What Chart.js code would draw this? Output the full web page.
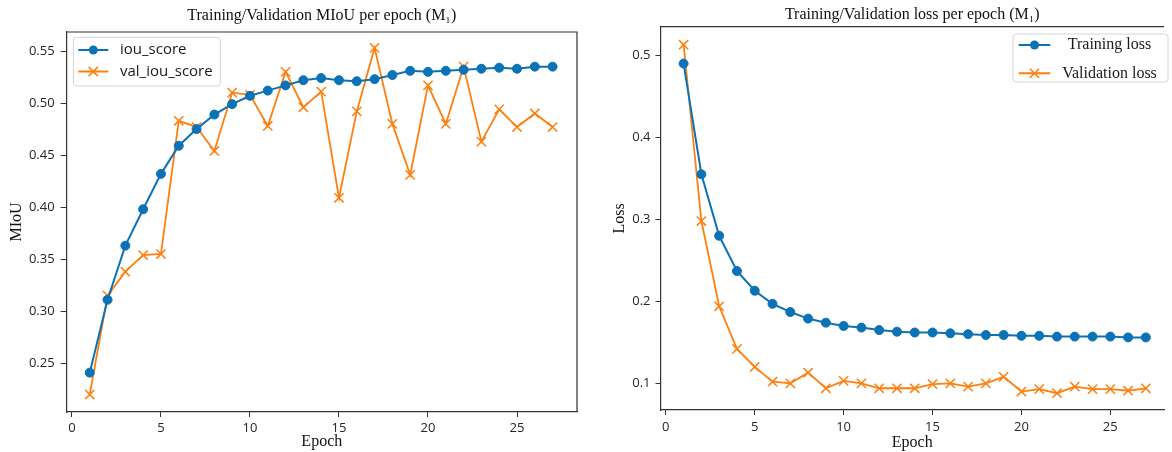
<!DOCTYPE html>
<html>
<head>
<meta charset="utf-8">
<script src="https://cdn.jsdelivr.net/npm/chart.js"></script>
<style>
body{margin:0;background:#fff;}
#wrap{position:relative;width:1172px;height:452px;overflow:hidden;}
canvas{position:absolute;top:0;}
#c1{left:0;}
#c2{left:590px;}
</style>
</head>
<body>
<div id="wrap">
<canvas id="c1" width="590" height="452"></canvas>
<canvas id="c2" width="582" height="452"></canvas>
</div>
<script>
var epochs = [1,2,3,4,5,6,7,8,9,10,11,12,13,14,15,16,17,18,19,20,21,22,23,24,25,26,27];
var iouScore = [0.241,0.311,0.363,0.398,0.432,0.459,0.475,0.489,0.499,0.507,0.512,0.517,0.522,0.524,0.522,0.521,0.523,0.527,0.531,0.530,0.531,0.532,0.533,0.534,0.533,0.535,0.535];
var valIouScore = [0.220,0.315,0.338,0.354,0.355,0.483,0.477,0.454,0.510,0.508,0.478,0.530,0.496,0.511,0.409,0.492,0.553,0.480,0.431,0.517,0.480,0.535,0.463,0.494,0.477,0.490,0.477];
var trainLoss = [0.490,0.355,0.280,0.237,0.213,0.197,0.187,0.179,0.174,0.170,0.168,0.165,0.163,0.162,0.162,0.161,0.160,0.159,0.159,0.158,0.158,0.157,0.157,0.157,0.157,0.156,0.156];
var valLoss = [0.513,0.298,0.194,0.142,0.120,0.102,0.100,0.113,0.094,0.103,0.100,0.094,0.094,0.094,0.099,0.100,0.096,0.100,0.108,0.090,0.093,0.088,0.096,0.093,0.093,0.091,0.094];

var xTicks = [0,5,10,15,20,25];
var iouTicks = [0.25,0.30,0.35,0.40,0.45,0.50,0.55];
var lossTicks = [0.1,0.2,0.3,0.4,0.5];

var blue = '#0b72b6';
var orange = '#ff7f0e';
var frameColor = '#333';
var sans = "'Open Sans', sans-serif";
var serif = "'Liberation Serif', serif";

Chart.defaults.font.family = sans;
Chart.defaults.color = '#262626';

function pts(ys){
	return epochs.map(function(e, i){ return {x:e, y:ys[i]}; });
}

function setTicks(list){
	return function(axis){
		axis.ticks = list.map(function(v){ return {value:v}; });
	};
}

// matplotlib style closed frame (top + right)
var framePlugin = {
	id:'frame',
	afterDraw:function(chart, args, opts){
		var a = chart.chartArea, ctx = chart.ctx;
		ctx.save();
		ctx.strokeStyle = frameColor;
		ctx.lineWidth = 1.2;
		ctx.beginPath();
		ctx.moveTo(a.left, a.top);
		ctx.lineTo(a.right, a.top);
		if(opts.right){
			ctx.lineTo(a.right, a.bottom);
		}
		ctx.stroke();
		ctx.restore();
	}
};

function drawMarker(ctx, style, x, y, color){
	ctx.strokeStyle = color;
	ctx.fillStyle = color;
	if(style === 'circle'){
		ctx.beginPath();
		ctx.arc(x, y, 4.5, 0, Math.PI*2);
		ctx.fill();
	}else{
		var d = 4.6;
		ctx.lineWidth = 1.5;
		ctx.beginPath();
		ctx.moveTo(x-d, y-d); ctx.lineTo(x+d, y+d);
		ctx.moveTo(x-d, y+d); ctx.lineTo(x+d, y-d);
		ctx.stroke();
	}
}

// legend box with line + marker samples
var boxLegend = {
	id:'boxLegend',
	afterDraw:function(chart, args, o){
		var ctx = chart.ctx;
		ctx.save();
		ctx.fillStyle = 'rgba(255,255,255,0.85)';
		ctx.strokeStyle = '#d4d4d4';
		ctx.lineWidth = 1;
		ctx.beginPath();
		if(ctx.roundRect){ ctx.roundRect(o.box[0], o.box[1], o.box[2], o.box[3], 3); }
		else { ctx.rect(o.box[0], o.box[1], o.box[2], o.box[3]); }
		ctx.fill();
		ctx.stroke();
		o.items.forEach(function(it){
			ctx.strokeStyle = it.color;
			ctx.lineWidth = 2;
			ctx.beginPath();
			ctx.moveTo(o.line[0], it.y);
			ctx.lineTo(o.line[1], it.y);
			ctx.stroke();
			drawMarker(ctx, it.style, (o.line[0]+o.line[1])/2, it.y, it.color);
			ctx.fillStyle = '#1a1a1a';
			ctx.font = o.font;
			ctx.textAlign = o.align;
			ctx.textBaseline = 'middle';
			ctx.fillText(it.label, o.textX, it.y);
		});
		ctx.restore();
	}
};

function lineSet(label, ys, color, style){
	return {
		label:label,
		data:pts(ys),
		borderColor:color,
		backgroundColor:color,
		borderWidth: style === 'circle' ? 2 : 1.8,
		pointStyle:style,
		pointRadius: style === 'circle' ? 4.5 : 6.5,
		pointBorderWidth: style === 'circle' ? 1 : 1.5,
		pointBackgroundColor:color,
		pointBorderColor:color,
		tension:0
	};
}

function axisX(max, h, pad, titlePad){
	return {
		type:'linear', min:-0.3, max:max,
		afterBuildTicks:setTicks(xTicks),
		afterFit:function(ax){ ax.height = h; },
		grid:{drawOnChartArea:false, tickLength:5, color:frameColor},
		border:{color:frameColor, width:1.2},
		ticks:{padding:pad, maxRotation:0, font:{size:13}},
		title:{display:true, text:'Epoch', color:'#111', font:{family:serif, size:16}, padding:{top:0, bottom:titlePad}}
	};
}

function axisY(min, max, list, dec, w, tl, pad, label, titlePad){
	return {
		min:min, max:max,
		afterBuildTicks:setTicks(list),
		afterFit:function(ax){ ax.width = w; },
		grid:{drawOnChartArea:false, tickLength:tl, color:frameColor},
		border:{color:frameColor, width:1.2},
		ticks:{padding:pad, font:{size:13}, callback:function(v){ return v.toFixed(dec); }},
		title:{display:true, text:label, color:'#111', font:{family:serif, size:16}, padding:{top:titlePad, bottom:0}}
	};
}

new Chart(document.getElementById('c1'), {
	type:'line',
	data:{datasets:[
		lineSet('iou_score', iouScore, blue, 'circle'),
		lineSet('val_iou_score', valIouScore, orange, 'crossRot')
	]},
	options:{
		responsive:false,
		animation:false,
		layout:{padding:{left:0, right:13, top:0, bottom:0}},
		plugins:{
			legend:{display:false},
			tooltip:{enabled:false},
			title:{display:true, fullSize:false, text:'Training/Validation MIoU per epoch (M\u2081)', color:'#111',
				font:{family:serif, size:16, weight:'normal'}, padding:{top:6, bottom:6.8}},
			frame:{right:true},
			boxLegend:{
				box:[73.4, 37.3, 146.8, 48.7], line:[78.3, 108.3], textX:120, align:'left',
				font:"15px 'Open Sans', sans-serif",
				items:[
					{label:'iou_score', color:blue, style:'circle', y:50},
					{label:'val_iou_score', color:orange, style:'x', y:71.5}
				]
			}
		},
		scales:{
			x:axisX(28.37, 40, 3, 0.7),
			y:axisY(0.2032, 0.5683, iouTicks, 2, 66.6, 6, 6, 'MIoU', 7.4)
		}
	},
	plugins:[framePlugin, boxLegend]
});

new Chart(document.getElementById('c2'), {
	type:'line',
	data:{datasets:[
		lineSet('Training loss', trainLoss, blue, 'circle'),
		lineSet('Validation loss', valLoss, orange, 'crossRot')
	]},
	options:{
		responsive:false,
		animation:false,
		layout:{padding:0},
		plugins:{
			legend:{display:false},
			tooltip:{enabled:false},
			title:{display:true, fullSize:false, text:'Training/Validation loss per epoch (M\u2081)', color:'#111',
				font:{family:serif, size:16, weight:'normal'}, padding:{top:5.4, bottom:2.1}},
			frame:{right:false},
			boxLegend:{
				box:[423, 34, 155, 48], line:[428.7, 460.3], textX:519.5, align:'center',
				font:"16px 'Liberation Serif', serif",
				items:[
					{label:'Training loss', color:blue, style:'circle', y:45},
					{label:'Validation loss', color:orange, style:'x', y:73.3}
				]
			}
		},
		scales:{
			x:axisX(28.02, 42, 4, 0),
			y:axisY(0.0675, 0.535, lossTicks, 1, 70.5, 5, 5, 'Loss', 20.1)
		}
	},
	plugins:[framePlugin, boxLegend]
});
</script>
</body>
</html>
